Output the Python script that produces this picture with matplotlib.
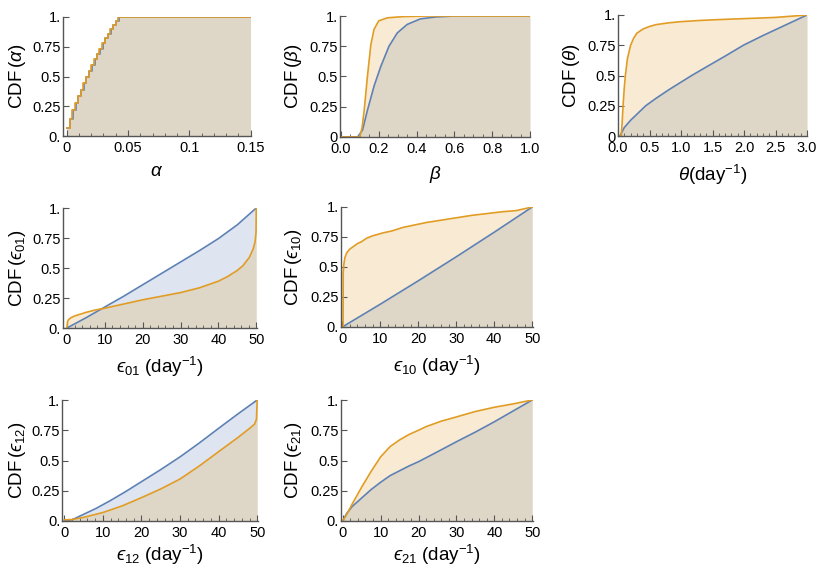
import numpy as np
import matplotlib.pyplot as plt
from matplotlib.ticker import MultipleLocator

plt.rcParams['font.family'] = ['Liberation Sans', 'DejaVu Sans']
plt.rcParams['mathtext.fontset'] = 'custom'
plt.rcParams['mathtext.rm'] = 'Liberation Sans'
plt.rcParams['mathtext.it'] = 'Liberation Sans:italic'
plt.rcParams['mathtext.fallback'] = 'stixsans'

BLUE = '#5E81B5'
ORANGE = '#E19C24'
W, H = 817, 567

# alpha: empirical step CDFs
alpha_steps_y = [0.065, 0.14, 0.215, 0.275, 0.335, 0.39, 0.445, 0.50, 0.55, 0.60,
                 0.645, 0.69, 0.735, 0.78, 0.82, 0.86, 0.895, 0.93, 0.965, 1.0]
alpha_orange_x = [0.0, 0.0025, 0.0047, 0.0069, 0.0091, 0.0113, 0.0135, 0.0157, 0.0179, 0.0201,
                  0.0223, 0.0245, 0.0267, 0.0289, 0.0311, 0.0333, 0.0355, 0.0377, 0.0399, 0.0421]
alpha_blue_x = [0.0003, 0.0029, 0.0051, 0.0073, 0.0095, 0.0117, 0.0139, 0.0161, 0.0183, 0.0205,
                0.0227, 0.0249, 0.0271, 0.0293, 0.0315, 0.0337, 0.0359, 0.0381, 0.0403, 0.0425]

beta_blue_x = [0.0, 0.088, 0.114, 0.14, 0.175, 0.21, 0.254, 0.298, 0.35, 0.42, 0.5, 0.6, 1.0]
beta_blue_y = [0.0, 0.0, 0.056, 0.22, 0.42, 0.58, 0.75, 0.86, 0.93, 0.976, 0.992, 1.0, 1.0]
beta_orange_x = [0.0, 0.10, 0.112, 0.123, 0.14, 0.158, 0.175, 0.2, 0.246, 0.33, 0.45, 1.0]
beta_orange_y = [0.0, 0.0, 0.08, 0.22, 0.5, 0.76, 0.89, 0.96, 0.985, 0.995, 1.0, 1.0]

theta_blue_x = [0.0, 0.03, 0.1, 0.2, 0.3, 0.44, 0.6, 0.8, 1.0, 1.17, 1.4, 1.7, 1.99, 2.3, 2.65, 3.0]
theta_blue_y = [0.0, 0.0, 0.07, 0.13, 0.18, 0.25, 0.31, 0.38, 0.445, 0.5, 0.57, 0.66, 0.75, 0.83, 0.915, 1.0]
theta_orange_x = [0.0, 0.05, 0.065, 0.08, 0.1, 0.117, 0.15, 0.2, 0.25, 0.3, 0.4, 0.5, 0.6, 0.8,
                  1.0, 1.3, 1.6, 2.0, 2.5, 3.0]
theta_orange_y = [0.0, 0.0, 0.1, 0.25, 0.4, 0.5, 0.64, 0.75, 0.81, 0.85, 0.885, 0.905, 0.92, 0.935,
                  0.945, 0.955, 0.962, 0.97, 0.98, 1.0]

e01_blue_x = [0, 5, 10, 15, 20, 25, 30, 35, 40, 45, 50]
e01_blue_y = [0.0, 0.085, 0.175, 0.265, 0.36, 0.455, 0.55, 0.645, 0.745, 0.86, 1.0]
e01_orange_x = [0, 0.15, 0.3, 1, 2, 3.5, 5, 7.5, 10, 15, 20, 25, 30, 35, 40, 42.5, 45, 46.5,
                48.2, 49.2, 49.7, 49.95, 50]
e01_orange_y = [0.0, 0.05, 0.065, 0.085, 0.10, 0.115, 0.13, 0.15, 0.165, 0.2, 0.235, 0.265, 0.295,
                0.335, 0.39, 0.43, 0.48, 0.52, 0.59, 0.66, 0.72, 0.8, 1.0]

e10_blue_x = [0, 10, 20, 30, 40, 50]
e10_blue_y = [0.0, 0.19, 0.385, 0.585, 0.79, 1.0]
e10_orange_x = [0, 0.2, 0.25, 0.4, 0.7, 1.2, 2, 2.9, 4, 5, 6.4, 8, 10.8, 13, 16, 19, 22, 26,
                30, 34, 38, 42, 45.8, 50]
e10_orange_y = [0.0, 0.0, 0.45, 0.52, 0.58, 0.62, 0.65, 0.67, 0.695, 0.71, 0.74, 0.76, 0.785,
                0.80, 0.83, 0.85, 0.87, 0.89, 0.91, 0.93, 0.945, 0.96, 0.97, 1.0]

e12_blue_x = [0, 2, 5, 8.3, 12, 16, 20, 25, 30, 35, 40, 45, 50]
e12_blue_y = [0.0, 0.01, 0.055, 0.105, 0.17, 0.245, 0.325, 0.425, 0.53, 0.645, 0.766, 0.885, 1.0]
e12_orange_x = [0, 2, 5, 10, 15, 20, 25, 30, 35, 40, 45, 48, 49.3, 49.8, 50]
e12_orange_y = [0.01, 0.012, 0.03, 0.07, 0.125, 0.193, 0.265, 0.347, 0.455, 0.573, 0.69, 0.765,
                0.8, 0.84, 1.0]

e21_blue_x = [0, 1, 2.5, 5, 7.5, 10, 12.5, 15, 17.5, 20, 25, 30, 35, 40, 45, 50]
e21_blue_y = [0.0, 0.06, 0.12, 0.19, 0.26, 0.32, 0.375, 0.415, 0.455, 0.49, 0.572, 0.655, 0.735,
              0.82, 0.91, 1.0]
e21_orange_x = [0, 1, 2.5, 5, 7.5, 10, 12.5, 15, 17.5, 20, 22, 26, 30, 35, 40, 45, 50]
e21_orange_y = [0.0, 0.05, 0.14, 0.28, 0.41, 0.53, 0.615, 0.67, 0.715, 0.75, 0.78, 0.825, 0.86,
                0.905, 0.94, 0.968, 1.0]

ytick_vals = [0, 0.25, 0.5, 0.75, 1.0]
ytick_dot = ['0.', '0.25', '0.5', '0.75', '1.']
ytick_nodot = ['0', '0.25', '0.5', '0.75', '1.']
eps_ticks = [0, 10, 20, 30, 40, 50]
eps_labels = ['0', '10', '20', '30', '40', '50']

fig = plt.figure(figsize=(W / 100, H / 100), dpi=100)


def make_ax(x0, x1, ytop, ybot, ylab_x):
    # panel box given in pixels from the top-left corner
    ax = fig.add_axes([x0 / W, 1 - ybot / H, (x1 - x0) / W, (ybot - ytop) / H])
    for side in ('top', 'right'):
        ax.spines[side].set_visible(False)
    for side in ('left', 'bottom'):
        ax.spines[side].set_color('#555555')
        ax.spines[side].set_linewidth(1.0)
    ax.tick_params(which='major', direction='in', length=4, width=0.8, color='#555555',
                   labelsize=10.5, labelcolor='black')
    ax.tick_params(axis='x', which='major', pad=3.5)
    ax.tick_params(axis='y', which='major', pad=1.5)
    ax.tick_params(which='minor', direction='in', length=2, width=0.6, color='#555555')
    ax.set_ylim(0, 1.0)
    ax.set_yticks(ytick_vals)
    ax.yaxis.set_label_coords((ylab_x - x0) / (x1 - x0), 0.5)
    return ax


def draw(ax, bx, by, ox, oy, step=False):
    kw = dict(step='post') if step else {}
    ax.fill_between(bx, by, 0, color=BLUE, alpha=0.2, lw=0, **kw)
    ax.fill_between(ox, oy, 0, color=ORANGE, alpha=0.2, lw=0, **kw)
    if step:
        ax.step(bx, by, where='post', color=BLUE, lw=1.2)
        ax.step(ox, oy, where='post', color=ORANGE, lw=1.2)
    else:
        ax.plot(bx, by, color=BLUE, lw=1.2)
        ax.plot(ox, oy, color=ORANGE, lw=1.2)


def labels(ax, xl, yl, pad=6):
    ax.set_xlabel(xl, fontsize=13.5, labelpad=pad)
    ax.set_ylabel(yl, fontsize=13.5, va='center')


# alpha
ax = make_ax(63, 251, 17, 136, 18)
draw(ax, alpha_blue_x + [0.15], alpha_steps_y + [1.0],
     alpha_orange_x + [0.15], alpha_steps_y + [1.0], step=True)
ax.set_xlim(-0.003, 0.1503)
ax.set_xticks([0, 0.05, 0.1, 0.15])
ax.set_xticklabels(['0', '0.05', '0.1', '0.15'])
ax.xaxis.set_minor_locator(MultipleLocator(0.01))
ax.set_yticklabels(ytick_dot)
labels(ax, r'$\alpha$', r'CDF$\,(\alpha)$')

# beta
ax = make_ax(340, 530, 16, 137, 293)
draw(ax, beta_blue_x, beta_blue_y, beta_orange_x, beta_orange_y)
ax.set_xlim(-0.005, 1.0)
ax.set_xticks([0, 0.2, 0.4, 0.6, 0.8, 1.0])
ax.set_xticklabels(['0.0', '0.2', '0.4', '0.6', '0.8', '1.0'])
ax.xaxis.set_minor_locator(MultipleLocator(0.05))
ax.set_yticklabels(ytick_nodot)
labels(ax, r'$\beta$', r'CDF$\,(\beta)$')

# theta
ax = make_ax(618, 807, 15, 136, 571)
draw(ax, theta_blue_x, theta_blue_y, theta_orange_x, theta_orange_y)
ax.set_xlim(0, 3.0)
ax.set_xticks([0, 0.5, 1.0, 1.5, 2.0, 2.5, 3.0])
ax.set_xticklabels(['0.0', '0.5', '1.0', '1.5', '2.0', '2.5', '3.0'])
ax.xaxis.set_minor_locator(MultipleLocator(0.1))
ax.set_yticklabels(ytick_nodot)
labels(ax, r'$\theta$(day$^{-1}$)', r'CDF$\,(\theta)$')

# transition rates: (x0, x1, ytop, ybot, ylabel x, xmin, xlabel pad)
panels = [
    ((63, 257, 208, 328, 18, -1.05, 6), e01_blue_x, e01_blue_y, e01_orange_x, e01_orange_y, '01'),
    ((340.7, 533, 207, 327, 294, -0.42, 6), e10_blue_x, e10_blue_y, e10_orange_x, e10_orange_y, '10'),
    ((62.3, 258, 400, 521, 18, -0.52, 2.5), e12_blue_x, e12_blue_y, e12_orange_x, e12_orange_y, '12'),
    ((341, 533, 400, 521, 293, -0.45, 2.5), e21_blue_x, e21_blue_y, e21_orange_x, e21_orange_y, '21'),
]
for (x0, x1, yt, yb, ylx, xmin, lp), bx, by, ox, oy, sub in panels:
    ax = make_ax(x0, x1, yt, yb, ylx)
    draw(ax, bx, by, ox, oy)
    ax.set_xlim(xmin, 50.2)
    ax.set_xticks(eps_ticks)
    ax.set_xticklabels(eps_labels)
    ax.xaxis.set_minor_locator(MultipleLocator(2))
    ax.set_yticklabels(ytick_dot)
    labels(ax, r'$ϵ_{\rm %s}$ (day$^{-1}$)' % sub, r'CDF$\,(ϵ_{\rm %s})$' % sub, pad=lp)

fig.savefig('out.png', dpi=100)
